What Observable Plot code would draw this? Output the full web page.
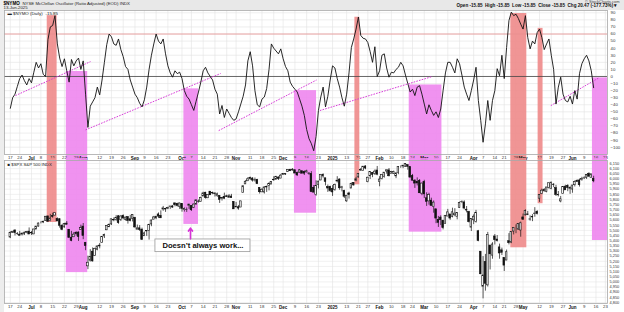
<!DOCTYPE html>
<html><head><meta charset="utf-8">
<script src="https://cdn.jsdelivr.net/npm/d3@7"></script>
<script src="https://cdn.jsdelivr.net/npm/@observablehq/plot@0.6"></script>
<style>
body{margin:0;background:#fff;}
#wrap{position:relative;width:624px;height:312px;overflow:hidden;background:#fff;}
#band{position:absolute;left:0;top:0;width:624px;height:9.5px;background:#e8e8e8;}
#lstrip{position:absolute;left:0;top:0;width:4px;height:312px;background:#ededed;}
#p1,#p2{position:absolute;left:0;}
#p1{top:0}#p2{top:158px}
svg{overflow:visible}
</style></head><body>
<div id="wrap"><div id="band"></div><div id="lstrip"></div><div id="p1"></div><div id="p2"></div></div>
<script>
// ---------- DATA ----------
// NYSE McClellan Oscillator (ratio adjusted), one value per trading day, 17-Jun-2024 .. 13-Jun-2025
const nymo = [
 -45,-30,-25,-14,-3,2,-6,-12,-3,-9,
 6,20,12,18,3,0,52,70,72,86,
 46,26,14,25,8,-8,24,15,22,26,
 10,22,-25,-72,-42,-36,-30,-15,-26,-5,
 20,45,60,56,46,44,53,38,28,14,
 10,-5,-15,-25,-30,-38,-43,-33,-15,10,
 30,46,60,50,46,53,32,15,5,-1,
 8,4,6,-3,-20,-28,-32,-40,-48,-35,
 -22,-8,8,13,5,0,-5,-18,-25,-53,
 -41,-58,-46,-52,-58,-62,-60,-50,-39,-28,
 -12,22,35,15,-20,-40,-43,-32,-29,-17,
 10,46,40,36,32,39,25,14,8,-8,
 -14,-18,-22,-32,-42,-55,-75,-88,-95,-105,
 -85,-48,-29,-15,-43,-28,-5,15,12,-3,
 -15,-30,-42,-25,5,41,53,67,84,58,
 54,53,48,35,20,42,0,8,30,32,
 12,-1,6,5,10,13,20,15,2,-10,
 -22,-18,-27,-15,-13,-25,-39,-53,-40,-48,
 -55,-50,-58,-46,-20,5,20,20,13,5,
 25,18,2,-15,-25,-34,-20,-5,13,-34,
 -62,-93,-67,-34,-62,-34,-20,11,1,30,
 -3,41,79,91,86,88,82,74,67,86,
 55,39,50,46,62,67,55,38,46,53,
 30,10,-39,-15,-1,-25,-34,-36,-28,-39,
 -20,-32,4,18,25,30,22,8,-15.85
];
// S&P 500 daily candles, same trading days
const spxOpen = [
 5431,5476,5499,5466,5459,5460,5461,5473,5488,5471,
 5461,5508,5537,5572,5584,5592,5635,5590,5638,5644,
 5610,5608,5544,5529,5566,5506,5429,5433,5476,5479,
 5505,5537,5377,5151,5206,5293,5252,5312,5352,5377,
 5442,5501,5531,5558,5603,5603,5637,5603,5639,5603,
 5629,5608,5612,5623,5507,5520,5507,5443,5490,5496,
 5558,5604,5617,5655,5641,5703,5709,5711,5728,5733,
 5762,5756,5727,5757,5698,5698,5737,5737,5719,5751,
 5778,5775,5829,5866,5812,5876,5859,5858,5833,5835,
 5814,5826,5831,5815,5829,5775,5723,5725,5722,5864,
 5947,5977,6009,6004,5986,5990,5912,5870,5868,5924,
 5933,5945,5992,5992,6014,6003,6040,6042,6069,6089,
 6082,6084,6057,6060,6074,6068,6063,6053,6048,5913,
 5842,5941,5985,6024,6006,5921,5920,5903,5892,5983,
 5994,5910,5882,5782,5859,5906,5962,5980,6015,6081,
 6076,6121,5970,6026,6057,6050,6082,5969,5998,6020,
 6072,6083,6047,6050,6025,6057,6115,6121,6117,6134,
 6114,6027,5983,5971,5981,5857,5969,5812,5782,5789,
 5726,5705,5603,5624,5594,5564,5635,5655,5632,5647,
 5631,5719,5776,5772,5701,5679,5527,5598,5581,5492,
 5293,4953,5193,4966,5353,5255,5441,5411,5335,5306,
 5232,5207,5395,5381,5489,5529,5508,5499,5626,5646,
 5655,5605,5626,5661,5679,5808,5854,5880,5874,5913,
 5903,5944,5910,5841,5781,5855,5925,5933,5903,5897,
 5939,5978,5985,5988,6005,6010,6050,6010,6000
];
const spxHigh = [
 5488,5490,5506,5479,5490,5472,5483,5490,5524,5490,
 5510,5539,5571,5583,5590,5635,5642,5656,5667,5670,
 5622,5615,5557,5569,5586,5509,5491,5478,5487,5486,
 5551,5567,5383,5250,5313,5330,5328,5351,5372,5436,
 5464,5546,5563,5608,5621,5643,5644,5642,5651,5628,
 5632,5646,5651,5623,5552,5547,5522,5484,5497,5560,
 5600,5636,5636,5670,5690,5733,5715,5725,5735,5741,
 5767,5764,5765,5758,5719,5718,5753,5740,5757,5797,
 5795,5823,5871,5870,5846,5878,5872,5866,5863,5835,
 5818,5862,5842,5848,5850,5780,5772,5741,5784,5932,
 5983,6012,6018,6012,6009,5996,5915,5908,5926,5930,
 5963,5974,6021,6025,6020,6044,6053,6052,6089,6093,
 6100,6088,6067,6092,6079,6078,6085,6058,6071,5936,
 5982,5978,6040,6049,6006,5941,5930,5935,5950,6022,
 6001,5928,5890,5838,5871,5961,5965,6015,6051,6101,
 6118,6128,6017,6070,6063,6087,6121,6022,6042,6062,
 6084,6101,6074,6076,6063,6116,6127,6129,6147,6134,
 6115,6044,5993,6010,5994,5959,5987,5865,5861,5813,
 5786,5705,5636,5642,5598,5645,5704,5655,5716,5711,
 5670,5775,5787,5787,5732,5685,5613,5651,5695,5500,
 5293,5246,5267,5481,5353,5381,5460,5450,5367,5328,
 5233,5309,5469,5485,5528,5554,5565,5581,5659,5700,
 5684,5641,5653,5721,5692,5846,5901,5906,5917,5959,
 5969,5954,5938,5878,5830,5924,5939,5944,5923,5937,
 5981,5991,5999,6016,6021,6043,6060,6046,6026
];
const spxLow = [
 5420,5471,5446,5451,5447,5446,5452,5468,5460,5451,
 5459,5508,5533,5563,5566,5587,5576,5584,5618,5640,
 5584,5522,5497,5522,5554,5426,5390,5431,5444,5393,
 5504,5410,5303,5119,5193,5192,5250,5302,5321,5377,
 5421,5498,5526,5548,5584,5589,5560,5586,5603,5591,
 5561,5583,5582,5521,5504,5490,5403,5443,5442,5406,
 5536,5604,5604,5615,5615,5686,5675,5702,5704,5714,
 5729,5727,5704,5677,5678,5675,5704,5684,5714,5745,
 5765,5775,5829,5804,5809,5840,5847,5824,5821,5762,
 5785,5799,5820,5813,5811,5703,5723,5696,5722,5864,
 5947,5977,5985,5969,5969,5945,5853,5866,5853,5869,
 5884,5944,5976,5992,5985,6003,6035,6034,6062,6071,
 6077,6048,6024,6058,6050,6033,6059,6035,5867,5866,
 5832,5903,5983,6007,5932,5869,5869,5830,5880,5961,
 5890,5874,5809,5773,5804,5906,5930,5972,6007,6074,
 6075,6089,5962,5994,6012,6034,6031,5924,5990,6007,
 6046,6020,6045,6043,6003,6041,6103,6100,6112,6085,
 6009,5982,5908,5932,5858,5837,5810,5733,5745,5732,
 5667,5565,5529,5547,5505,5564,5633,5598,5622,5633,
 5603,5714,5760,5700,5670,5572,5489,5556,5571,5390,
 5069,4835,4910,4950,5116,5220,5358,5387,5220,5256,
 5101,5207,5359,5371,5456,5468,5500,5434,5596,5640,
 5644,5590,5585,5628,5650,5772,5847,5871,5865,5901,
 5895,5915,5830,5825,5768,5855,5888,5876,5850,5861,
 5922,5966,5921,5978,5994,5995,6016,6006,5963
];
const spxClose = [
 5473,5487,5473,5464,5448,5469,5478,5483,5460,5475,
 5509,5537,5567,5572,5577,5633,5585,5615,5631,5667,
 5588,5545,5505,5564,5555,5427,5399,5459,5464,5436,
 5522,5446,5347,5186,5240,5199,5319,5344,5344,5434,
 5455,5543,5554,5608,5597,5621,5570,5635,5616,5625,
 5592,5592,5648,5529,5520,5503,5408,5471,5496,5554,
 5596,5626,5633,5634,5618,5714,5703,5719,5732,5722,
 5745,5738,5762,5709,5710,5700,5751,5696,5751,5792,
 5780,5815,5859,5815,5843,5841,5864,5853,5851,5797,
 5809,5808,5823,5832,5813,5705,5729,5712,5782,5929,
 5973,5996,6001,5984,5985,5949,5871,5894,5917,5917,
 5949,5969,5987,6021,5999,6032,6047,6050,6087,6075,
 6090,6053,6034,6084,6051,6051,6074,6051,5872,5867,
 5931,5974,6040,6038,5971,5907,5882,5869,5942,5975,
 5909,5918,5827,5837,5843,5950,5937,5997,6049,6086,
 6119,6101,6012,6068,6039,6071,6041,5994,6038,6061,
 6084,6026,6066,6069,6052,6115,6115,6129,6144,6118,
 6013,5983,5955,5956,5861,5955,5850,5778,5843,5739,
 5770,5615,5573,5599,5522,5639,5675,5615,5676,5663,
 5668,5768,5777,5712,5693,5581,5612,5633,5671,5397,
 5074,5062,4982,5457,5268,5363,5406,5397,5276,5283,
 5158,5288,5376,5485,5525,5529,5561,5569,5604,5687,
 5650,5607,5631,5663,5660,5844,5886,5892,5917,5958,
 5964,5940,5845,5842,5802,5922,5889,5912,5912,5936,
 5970,5971,5939,6000,6006,6038,6022,6045,5977
];
// date axis: trading-day index of each label
const tickIdx = [0,4,9,13,18,23,28,31,38,43,48,53,57,62,67,73,77,82,87,92,96,102,107,112,116,121,126,131,137,143,148,152,157,162,167,171,176,181,186,191,197,201,206,210,215,218,225,230,235,239,244,249,253];
const tickLabel = ["17","24","Jul","8","15","22","29","Aug","12","19","26","Sep","9","16","23","Oct","7","14","21","28","Nov","11","18","25","Dec","9","16","23","2025","13","21","27","Feb","10","18","24","Mar","10","17","24","Apr","7","14","21","28","May","12","19","27","Jun","9","16","23"];
const nymoTicks = d3.range(-100, 91, 10);
const spxTicks = d3.range(4800, 6151, 50);
// highlighted zones (trading-day index span, NYMO value at top, SPX value at bottom)
const zoneStart  = [15.7, 23.8, 73.8, 120.8, 146.5, 169.6, 212.8, 224.4, 247.5];
const zoneEnd    = [19.9, 32.9, 80.0, 130.2, 148.6, 183.5, 219.6, 226.5, 253.9];
const zoneTop    = [86, 7, -17.5, -20, 83.7, -12, 89, 68, -2];
const zoneBottom = [5577, 5090, 5558, 5667, 5943, 5483, 5331, 5759, 5402];
const zoneKind   = ["red","pink","pink","pink","red","pink","red","red","pink"];
// dotted trend lines on the oscillator
const trendX1 = [2.2, 32, 88.6, 131.6, 229.8];
const trendY1 = [-27, -75.5, -76.5, -48.2, -41.2];
const trendX2 = [34.1, 89.4, 130.2, 179.5, 250.2];
const trendY2 = [21, 4.2, -5, 0, -2];
// annotation
const noteText = "Doesn’t always work...";
const noteBox = [{x1: 61.7, x2: 102.1, y1: 5412, y2: 5289}];
const noteArrow = [{x: 76.6, y1: 5418, y2: 5522}];

// ---------- BUILD ----------
const FONT = "Liberation Sans, Arial, sans-serif";
const xDomain = [-2.47, 253.9];
const yTop = [-110.3, 93.25];
const yBot = [4790, 6179];
const days = spxClose.map((c, i) => ({i, o: spxOpen[i], h: spxHigh[i], l: spxLow[i], c}));
const ticks = tickIdx.map((i, k) => ({i, label: tickLabel[k], bold: tickLabel[k].length > 2}));
const zones = zoneStart.map((s, k) => ({s, e: zoneEnd[k], top: zoneTop[k], bot: zoneBottom[k],
  fill: zoneKind[k] === "red" ? "#ee8a8a" : "#ee86ee"}));
const trends = trendX1.map((x, k) => ({x1: x, y1: trendY1[k], x2: trendX2[k], y2: trendY2[k]}));
const gridCol = "#e2e2e2";
const dateMarks = () => [
  Plot.text(ticks.filter(d => !d.bold), {x: "i", text: "label", frameAnchor: "bottom", lineAnchor: "middle", dy: 3.6, fontSize: 4.3, fill: "#333"}),
  Plot.text(ticks.filter(d => d.bold), {x: "i", text: "label", frameAnchor: "bottom", lineAnchor: "middle", dy: 3.6, fontSize: 4.5, fontWeight: "bold", fill: "#111"})
];

const topPlot = Plot.plot({
  width: 624, height: 158, marginTop: 10, marginBottom: 4, marginLeft: 4, marginRight: 17,
  style: {background: "transparent", fontFamily: FONT},
  x: {type: "linear", domain: xDomain, axis: null},
  y: {type: "linear", domain: yTop, axis: null},
  marks: [
    Plot.frame({fill: "white", stroke: null}),
    Plot.ruleY(nymoTicks, {stroke: gridCol, strokeWidth: 0.6}),
    Plot.ruleX(tickIdx, {stroke: gridCol, strokeWidth: 0.6}),
    Plot.rect(zones, {x1: "s", x2: "e", y1: "top", y2: () => yTop[0], fill: "fill", fillOpacity: 0.9, insetBottom: -4}),
    Plot.ruleY([60], {stroke: "#e89090", strokeWidth: 0.8}),
    Plot.ruleY([0], {stroke: "#444", strokeWidth: 0.8}),
    Plot.link(trends, {x1: "x1", y1: "y1", x2: "x2", y2: "y2", stroke: "#d83cd8", strokeWidth: 1, strokeDasharray: "1.6,1.2"}),
    Plot.line(nymo, {x: (d, i) => i, y: d => d, stroke: "#111", strokeWidth: 0.9}),
    Plot.frame({stroke: "#a8a8a8", strokeWidth: 0.8}),
    Plot.axisY(nymoTicks, {anchor: "right", tickSize: 0, tickPadding: 3, fontSize: 4.3, fill: "#333", fontFamily: FONT}),
    ...dateMarks(),
    Plot.text(["$NYMO"], {text: d => d, frameAnchor: "top-left", lineAnchor: "middle", textAnchor: "start", dx: -1, dy: -7.2, fontSize: 4.6, fontWeight: "bold"}),
    Plot.text(["NYSE McClellan Oscillator (Ratio Adjusted) (EOD) INDX"], {text: d => d, frameAnchor: "top-left", lineAnchor: "middle", textAnchor: "start", dx: 18, dy: -7.2, fontSize: 4.3, fill: "#222"}),
    Plot.text(["13-Jun-2025"], {text: d => d, frameAnchor: "top-left", lineAnchor: "middle", dx: -1, dy: -3.0, fontSize: 4.3, fill: "#222"}),
    Plot.text(["© StockCharts.com"], {text: d => d, frameAnchor: "top-right", lineAnchor: "middle", dx: 12, dy: -8.6, fontSize: 4.0, fill: "#444"}),
    Plot.text(["Open -15.85  High -15.85  Low -15.85  Close -15.85  Chg 20.47 (-177.73%) ▾"], {text: d => d, frameAnchor: "top-right", lineAnchor: "middle", dx: 10, dy: -4.6, fontSize: 4.6, fontWeight: 600, fill: "#111"}),
    Plot.text(["▬ $NYMO (Daily)"], {text: d => d, frameAnchor: "top-left", lineAnchor: "middle", dx: 3, dy: 3.4, fontSize: 4.4, fill: "#222"}),
    Plot.text(["-15.85"], {text: d => d, frameAnchor: "top-left", lineAnchor: "middle", dx: 41, dy: 3.4, fontSize: 4.4, fill: "#111"})
  ]
});
document.getElementById("p1").appendChild(topPlot);

const botPlot = Plot.plot({
  width: 624, height: 154, marginTop: 2, marginBottom: 9, marginLeft: 4, marginRight: 17,
  style: {background: "transparent", fontFamily: FONT},
  x: {type: "linear", domain: xDomain, axis: null},
  y: {type: "linear", domain: yBot, axis: null},
  marks: [
    Plot.frame({fill: "white", stroke: null}),
    Plot.ruleY(spxTicks, {stroke: gridCol, strokeWidth: 0.5}),
    Plot.ruleX(tickIdx, {stroke: gridCol, strokeWidth: 0.6}),
    Plot.rect(zones, {x1: "s", x2: "e", y1: () => yBot[1], y2: "bot", fill: "fill", fillOpacity: 0.9, insetTop: -2}),
    Plot.ruleX(days, {x: "i", y1: "l", y2: "h", stroke: "#111", strokeWidth: 0.7}),
    Plot.rect(days, {x1: d => d.i - 0.34, x2: d => d.i + 0.34, y1: "o", y2: "c",
      fill: d => d.c >= d.o ? "white" : "#111", stroke: "#111", strokeWidth: 0.6}),
    Plot.frame({stroke: "#a8a8a8", strokeWidth: 0.8}),
    Plot.axisY(spxTicks, {anchor: "right", tickSize: 0, tickPadding: 2, fontSize: 3.9, fill: "#333", fontFamily: FONT}),
    ...dateMarks(),
    Plot.text(["■ $SPX S&P 500 INDX"], {text: d => d, frameAnchor: "top-left", lineAnchor: "middle", dx: 3, dy: 4, fontSize: 4.3, fill: "#222"}),
    Plot.rect(noteBox, {x1: "x1", x2: "x2", y1: "y1", y2: "y2", fill: "white", stroke: "#9a9a9a", strokeWidth: 0.8}),
    Plot.text(noteBox, {x: d => (d.x1 + d.x2) / 2, y: d => (d.y1 + d.y2) / 2, text: () => noteText, fontSize: 7.6, fontWeight: "bold", fill: "#111"}),
    Plot.arrow(noteArrow, {x: "x", y1: "y1", y2: "y2", stroke: "#d633d6", strokeWidth: 1.6, headLength: 4, headAngle: 70})
  ]
});
document.getElementById("p2").appendChild(botPlot);
</script>
</body></html>
